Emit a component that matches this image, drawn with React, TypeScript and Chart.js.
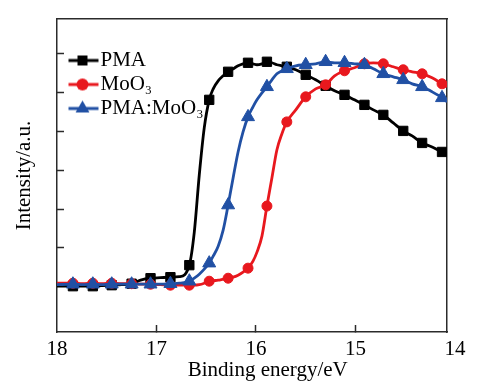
import React, { useEffect, useRef } from 'react';
import { Chart, registerables } from 'chart.js';

Chart.register(...registerables);

// Binding energy (eV), shared sampling grid for the three spectra
const ENERGY = [
  18.0, 17.84, 17.74, 17.64, 17.55, 17.45, 17.35, 17.25, 17.16, 17.06,
  16.96, 16.86, 16.77, 16.67, 16.62, 16.57, 16.52, 16.47, 16.43, 16.38,
  16.33, 16.28, 16.23, 16.18, 16.13, 16.08, 16.03, 15.99, 15.94, 15.89,
  15.84, 15.79, 15.74, 15.69, 15.6, 15.5, 15.4, 15.3, 15.21, 15.11,
  15.01, 14.91, 14.82, 14.72, 14.62, 14.52, 14.43, 14.33, 14.23, 14.13, 14.08,
];

// Energies where a marker symbol is drawn
const MARKER_ENERGY = [
  17.84, 17.64, 17.45, 17.25, 17.06, 16.86, 16.67, 16.47, 16.28, 16.08,
  15.89, 15.69, 15.5, 15.3, 15.11, 14.91, 14.72, 14.52, 14.33, 14.13,
];

const PMA = [
  1.012, 1.012, 1.012, 1.012, 1.025, 1.038, 1.051, 1.076, 1.167, 1.218,
  1.231, 1.244, 1.257, 1.554, 2.406, 3.877, 5.09, 5.813, 6.097, 6.304,
  6.433, 6.536, 6.613, 6.691, 6.742, 6.768, 6.742, 6.717, 6.742, 6.794,
  6.768, 6.717, 6.691, 6.665, 6.588, 6.458, 6.329, 6.175, 6.045, 5.942,
  5.813, 5.684, 5.555, 5.426, 5.219, 5.013, 4.884, 4.703, 4.6, 4.471, 4.419,
];

const MOO3 = [
  1.089, 1.089, 1.076, 1.089, 1.076, 1.089, 1.076, 1.076, 1.063, 1.063,
  1.051, 1.038, 1.038, 1.038, 1.038, 1.051, 1.089, 1.141, 1.154, 1.167,
  1.193, 1.218, 1.244, 1.296, 1.373, 1.477, 1.657, 1.89, 2.303, 3.077,
  3.8, 4.522, 4.935, 5.245, 5.555, 5.891, 6.097, 6.2, 6.433, 6.562,
  6.639, 6.742, 6.768, 6.742, 6.665, 6.588, 6.536, 6.484, 6.381, 6.226, 6.149,
];

const PMA_MOO3 = [
  1.051, 1.063, 1.051, 1.063, 1.051, 1.063, 1.063, 1.063, 1.063, 1.063,
  1.063, 1.076, 1.089, 1.141, 1.218, 1.322, 1.451, 1.606, 1.786, 2.044,
  2.457, 3.103, 3.8, 4.471, 4.987, 5.374, 5.632, 5.813, 5.994, 6.149,
  6.329, 6.484, 6.562, 6.613, 6.691, 6.717, 6.742, 6.794, 6.768, 6.768,
  6.742, 6.717, 6.613, 6.484, 6.407, 6.329, 6.226, 6.149, 6.02, 5.865, 5.761,
];

const SERIES_LABELS = ['PMA', 'MoO\u2083', 'PMA:MoO\u2083'];
const X_TICKS = [18, 17, 16, 15, 14];
const Y_TICKS = [2, 3, 4, 5, 6, 7];

const FONT = "'Liberation Serif', 'Times New Roman', Times, serif";
const FRAME = '#2b2b2b';
const BLACK = '#000000';
const RED = '#e8181e';
const BLUE = '#2150a4';

function drawMarker(ctx: CanvasRenderingContext2D, kind: string, x: number, y: number, color: string) {
  ctx.fillStyle = color;
  ctx.beginPath();
  if (kind === 'rect') {
    ctx.rect(x - 5, y - 5, 10, 10);
  } else if (kind === 'circle') {
    ctx.arc(x, y, 6, 0, Math.PI * 2);
  } else {
    const r = 8;
    ctx.moveTo(x, y - r);
    ctx.lineTo(x + 0.866 * r, y + 0.5 * r);
    ctx.lineTo(x - 0.866 * r, y + 0.5 * r);
    ctx.closePath();
  }
  ctx.fill();
}

function makeIcon(kind: string, color: string): HTMLCanvasElement {
  const c = document.createElement('canvas');
  c.width = 60;
  c.height = 20;
  const ctx = c.getContext('2d')!;
  ctx.strokeStyle = color;
  ctx.lineWidth = 3;
  ctx.beginPath();
  ctx.moveTo(23.5, 10);
  ctx.lineTo(53.5, 10);
  ctx.stroke();
  drawMarker(ctx, kind, 37.5, 10, color);
  return c;
}

export default function App() {
  const canvasRef = useRef<HTMLCanvasElement | null>(null);

  useEffect(() => {
    const canvas = canvasRef.current;
    if (!canvas) return;
    const markerSet = new Set(MARKER_ENERGY);
    const icons = [makeIcon('rect', BLACK), makeIcon('circle', RED), makeIcon('triangle', BLUE)];
    const toPts = (vals: number[]) => ENERGY.map((e, i) => ({ x: e, y: vals[i] }));
    const radius = (r: number) => (ctx: any) => (markerSet.has(ENERGY[ctx.dataIndex]) ? r : 0);

    const mkDs = (label: string, vals: number[], color: string, style: string, r: number, order: number) => ({
      label,
      data: toPts(vals),
      borderColor: color,
      backgroundColor: color,
      pointBackgroundColor: color,
      pointBorderColor: color,
      pointBorderWidth: 1,
      pointStyle: style,
      pointRadius: radius(r),
      pointHoverRadius: radius(r),
      borderWidth: 2.8,
      cubicInterpolationMode: 'monotone' as const,
      order,
      xAxisID: 'x',
      yAxisID: 'y',
    });

    const chart = new Chart(canvas, {
      type: 'line',
      data: {
        datasets: [
          mkDs(SERIES_LABELS[0], PMA, BLACK, 'rect', 6.6, 2),
          mkDs(SERIES_LABELS[1], MOO3, RED, 'circle', 5, 1),
          mkDs(SERIES_LABELS[2], PMA_MOO3, BLUE, 'triangle', 7.5, 0),
        ],
      },
      options: {
        responsive: false,
        animation: false,
        layout: { padding: 0 },
        plugins: {
          tooltip: { enabled: false },
          legend: {
            display: true,
            position: 'chartArea',
            align: 'start',
            title: { display: true, text: '', padding: { top: 37, bottom: 0 }, font: { size: 10, lineHeight: 1 } },
            labels: {
              usePointStyle: true,
              pointStyleWidth: 30,
              padding: 3,
              color: '#000',
              font: { family: FONT, size: 21 },
              generateLabels: (ch: any) =>
                ch.data.datasets.map((ds: any, i: number) => ({
                  text: ds.label,
                  fillStyle: ds.borderColor,
                  strokeStyle: ds.borderColor,
                  fontColor: '#000',
                  lineWidth: 0,
                  pointStyle: icons[i],
                  hidden: false,
                  datasetIndex: i,
                })),
            },
          },
        },
        scales: {
          x: {
            type: 'linear',
            position: 'bottom',
            reverse: true,
            min: 14.08,
            max: 18,
            afterBuildTicks: (s: any) => {
              s.ticks = X_TICKS.map((v) => ({ value: v }));
            },
            afterFit: (s: any) => {
              s.height = 60;
            },
            grid: {
              drawOnChartArea: false,
              drawTicks: true,
              tickLength: -7,
              tickWidth: 1.5,
              tickColor: (c: any) =>
                c.tick && (c.tick.value === 14 || c.tick.value === 18) ? 'rgba(0,0,0,0)' : FRAME,
            },
            border: { display: true, color: FRAME, width: 1.5 },
            ticks: {
              color: '#000',
              font: { family: FONT, size: 21 },
              padding: 11.7,
              maxRotation: 0,
              autoSkip: false,
              callback: (v: any) => String(v),
            },
            title: {
              display: true,
              text: '      Binding energy/eV',
              color: '#000',
              font: { family: FONT, size: 21 },
              padding: { top: 0, bottom: 9.4 },
            },
          },
          y: {
            type: 'linear',
            position: 'left',
            min: -0.168,
            max: 7.896,
            afterBuildTicks: (s: any) => {
              s.ticks = Y_TICKS.map((v) => ({ value: v }));
            },
            afterFit: (s: any) => {
              s.width = 57;
            },
            grid: {
              drawOnChartArea: false,
              drawTicks: true,
              tickLength: -7,
              tickWidth: 1.5,
              tickColor: FRAME,
            },
            border: { display: true, color: FRAME, width: 1.5 },
            ticks: { display: false },
            title: {
              display: true,
              text: 'Intensity/a.u.',
              color: '#000',
              font: { family: FONT, size: 21 },
              padding: { top: 11.4, bottom: 0 },
            },
          },
          x2: {
            type: 'linear',
            position: 'top',
            afterFit: (s: any) => {
              s.height = 19;
            },
            grid: { drawOnChartArea: false, drawTicks: false },
            border: { display: true, color: FRAME, width: 1.5 },
            ticks: { display: false },
          },
          y2: {
            type: 'linear',
            position: 'right',
            afterFit: (s: any) => {
              s.width = 38;
            },
            grid: { drawOnChartArea: false, drawTicks: false },
            border: { display: true, color: FRAME, width: 1.5 },
            ticks: { display: false },
          },
        },
      } as any,
    });

    return () => {
      chart.destroy();
    };
  }, []);

  return (
    <canvas
      ref={canvasRef}
      width={485}
      height={392}
      style={{ position: 'absolute', left: 0, top: 0, display: 'block', background: '#fff' }}
    />
  );
}
